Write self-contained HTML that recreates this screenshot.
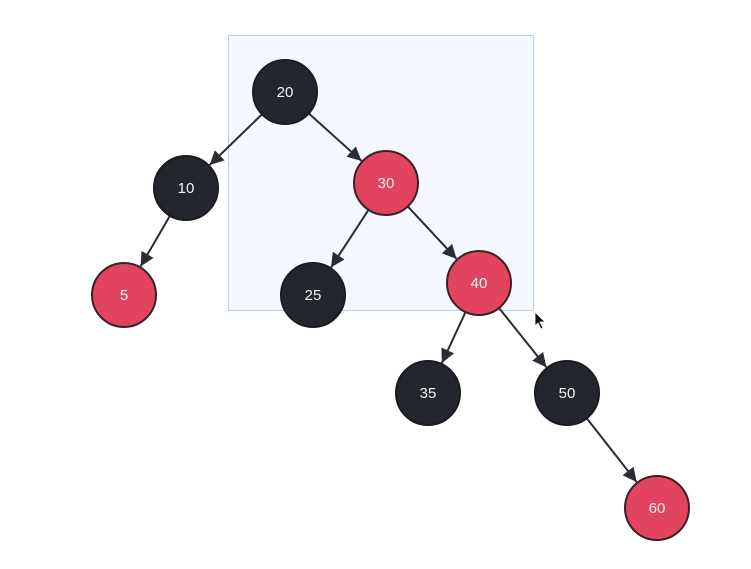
<!DOCTYPE html>
<html><head><meta charset="utf-8"><style>
html,body{margin:0;padding:0;background:#fff;}
svg{display:block;font-family:"Liberation Sans",sans-serif;}
</style></head><body>
<svg id="tree" width="751" height="569" viewBox="0 0 751 569">
<defs><marker id="ah" viewBox="0 0 10 10" refX="10" refY="5" markerWidth="9" markerHeight="9" markerUnits="userSpaceOnUse" orient="auto"><path d="M0,0 L10,5 L0,10 z" fill="#2a2d33"/></marker>
<marker id="ah2" viewBox="0 0 10 10" refX="10" refY="5" markerWidth="14" markerHeight="14" markerUnits="userSpaceOnUse" orient="auto"><path d="M0,0 L10,5 L0,10 z" fill="#2a2d33"/></marker></defs>
<rect x="228.5" y="35.5" width="305" height="275" fill="#f5f9ff" stroke="#b9cff2" stroke-width="1"/>
<g id="edges"></g><g id="nodes"></g>
<path d="M535,312 L535,326 L538,323 L541,329 L543,328 L540,322 L545,322 z" fill="#111" stroke="#fff" stroke-width="0.8"/>
</svg>
<script>
const labels=["20","10","30","5","25","40","35","50","60"];
const colors=["black","black","red","red","black","red","black","black","red"];
const xs=[285,186,386,124,313,479,428,567,657];
const ys=[92,188,183,295,295,283,393,393,508];
const parents=[-1,0,0,1,2,2,5,5,7];
const R=32,NS="http://www.w3.org/2000/svg";
const eg=document.getElementById('edges'),ng=document.getElementById('nodes');
for(let i=0;i<labels.length;i++){
 const p=parents[i]; if(p<0) continue;
 const dx=xs[i]-xs[p],dy=ys[i]-ys[p],d=Math.hypot(dx,dy),ux=dx/d,uy=dy/d;
 const l=document.createElementNS(NS,'line');
 
 
 l.setAttribute('x1',xs[p]+ux*R);l.setAttribute('y1',ys[p]+uy*R);
 l.setAttribute('x2',xs[i]-ux*(R+1));l.setAttribute('y2',ys[i]-uy*(R+1));
 l.setAttribute('stroke','#2a2d33');l.setAttribute('stroke-width','2');
 l.setAttribute('marker-end','url(#ah2)');
 eg.appendChild(l);
}
for(let i=0;i<labels.length;i++){
 const g=document.createElementNS(NS,'g');
 
 
 const c=document.createElementNS(NS,'circle');
 c.setAttribute('cx',xs[i]);c.setAttribute('cy',ys[i]);c.setAttribute('r',R);
 c.setAttribute('fill',colors[i]==='red'?'#e2435f':'#23262c');
 c.setAttribute('stroke',colors[i]==='red'?'#3a2328':'#1a1c20');c.setAttribute('stroke-width','2');
 g.appendChild(c);
 const t=document.createElementNS(NS,'text');
 t.setAttribute('x',xs[i]);t.setAttribute('y',ys[i]+5);
 t.setAttribute('text-anchor','middle');t.setAttribute('font-size','15');t.setAttribute('fill','#f2f2f2');
 t.textContent=labels[i];
 g.appendChild(t);
 ng.appendChild(g);
}
</script>
</body></html>
